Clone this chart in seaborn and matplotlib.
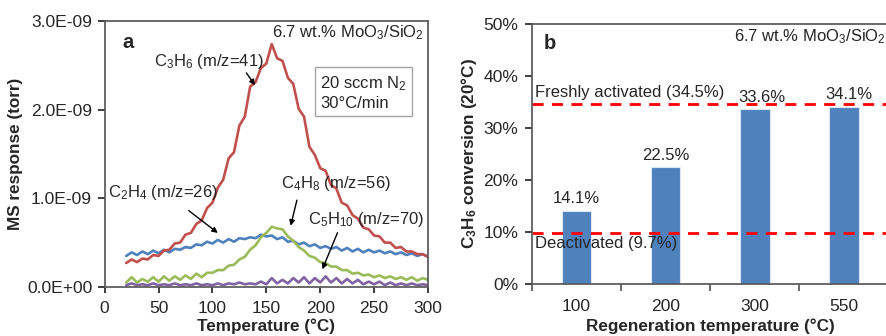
import numpy as np
import pandas as pd
import matplotlib
matplotlib.use("Agg")
import matplotlib.pyplot as plt
import seaborn as sns
from matplotlib.ticker import FuncFormatter, MultipleLocator

# panel a: MS signals, in 1E-09 torr, sampled every 5 C
temps = [20, 25, 30, 35, 40, 45, 50, 55, 60, 65, 70, 75, 80, 85, 90, 95,
         100, 105, 110, 115, 120, 125, 130, 135, 140, 145, 150, 155, 160,
         165, 170, 175, 180, 185, 190, 195, 200, 205, 210, 215, 220, 225,
         230, 235, 240, 245, 250, 255, 260, 265, 270, 275, 280, 285, 290,
         295, 300]
c3h6 = [0.27, 0.31, 0.28, 0.32, 0.31, 0.36, 0.35, 0.41, 0.42, 0.49, 0.50,
        0.59, 0.61, 0.71, 0.75, 0.89, 0.95, 1.12, 1.21, 1.45, 1.52, 1.82,
        1.92, 2.26, 2.31, 2.47, 2.52, 2.74, 2.58, 2.55, 2.36, 2.29, 2.01,
        1.92, 1.58, 1.49, 1.34, 1.31, 1.15, 1.11, 0.95, 0.92, 0.81, 0.77,
        0.67, 0.65, 0.58, 0.57, 0.50, 0.50, 0.44, 0.45, 0.40, 0.40, 0.37,
        0.37, 0.34]
c2h4 = [0.35, 0.39, 0.36, 0.40, 0.37, 0.41, 0.38, 0.42, 0.39, 0.43, 0.42,
        0.45, 0.44, 0.48, 0.47, 0.51, 0.49, 0.53, 0.50, 0.54, 0.51, 0.55,
        0.54, 0.56, 0.55, 0.59, 0.57, 0.58, 0.54, 0.56, 0.51, 0.52, 0.48,
        0.50, 0.46, 0.48, 0.44, 0.46, 0.43, 0.45, 0.41, 0.44, 0.40, 0.43,
        0.39, 0.42, 0.39, 0.41, 0.38, 0.40, 0.37, 0.39, 0.36, 0.38, 0.35,
        0.37, 0.34]
c4h8 = [0.05, 0.11, 0.05, 0.09, 0.06, 0.11, 0.06, 0.12, 0.07, 0.12, 0.08,
        0.13, 0.09, 0.15, 0.11, 0.16, 0.16, 0.19, 0.19, 0.24, 0.25, 0.31,
        0.34, 0.42, 0.47, 0.56, 0.61, 0.68, 0.66, 0.65, 0.57, 0.52, 0.45,
        0.41, 0.35, 0.33, 0.28, 0.27, 0.23, 0.23, 0.19, 0.19, 0.15, 0.16,
        0.13, 0.14, 0.11, 0.13, 0.10, 0.12, 0.09, 0.11, 0.08, 0.11, 0.07,
        0.10, 0.08]
c5h10 = [0.02, 0.04, 0.02, 0.03, 0.02, 0.04, 0.02, 0.03, 0.02, 0.04, 0.02,
         0.03, 0.02, 0.04, 0.02, 0.03, 0.02, 0.04, 0.02, 0.04, 0.03, 0.05,
         0.03, 0.04, 0.03, 0.06, 0.03, 0.10, 0.04, 0.08, 0.04, 0.10, 0.05,
         0.11, 0.04, 0.10, 0.05, 0.12, 0.05, 0.10, 0.04, 0.09, 0.04, 0.08,
         0.03, 0.06, 0.03, 0.06, 0.02, 0.05, 0.02, 0.04, 0.02, 0.04, 0.02,
         0.03, 0.02]

# panel b: regeneration
regen_temps = ["100", "200", "300", "550"]
conversion = [14.1, 22.5, 33.6, 34.1]
fresh_level = 34.5
deact_level = 9.7

sns.set_theme(style="ticks")
plt.rcParams["font.family"] = ["Liberation Sans", "DejaVu Sans"]
plt.rcParams["mathtext.fontset"] = "custom"
plt.rcParams["mathtext.rm"] = "Liberation Sans"
plt.rcParams["mathtext.it"] = "Liberation Sans:italic"
plt.rcParams["mathtext.bf"] = "Liberation Sans:bold"

spine_c = "#595959"
fs = 12.3
fs_tick = 12.6
fs_note = 12.0

fig = plt.figure(figsize=(8.87, 3.36), dpi=100)
ax1 = fig.add_axes([0.118, 0.146, 0.3645, 0.7915])
ax2 = fig.add_axes([0.5998, 0.155, 0.402, 0.774])

# ---- panel a
traces = [(c2h4, "#4F81BD"), (c3h6, "#C0504D"), (c4h8, "#9BBB59"), (c5h10, "#8064A2")]
for vals, col in traces:
    sns.lineplot(x=temps, y=np.array(vals) * 1e-9, ax=ax1, color=col, lw=1.9)

ax1.set_xlim(0, 300)
ax1.set_ylim(0, 3e-9)
ax1.xaxis.set_major_locator(MultipleLocator(50))
ax1.yaxis.set_major_locator(MultipleLocator(1e-9))
ax1.yaxis.set_major_formatter(FuncFormatter(lambda v, p: f"{v:.1E}"))
ax1.set_xlabel("Temperature (°C)", fontsize=fs, fontweight="bold", labelpad=2)
ax1.set_ylabel("MS response (torr)", fontsize=fs, fontweight="bold", labelpad=3)
ax1.tick_params(axis="y", labelsize=fs_tick, colors="#262626", length=5, pad=4)
ax1.tick_params(axis="x", labelsize=fs_tick, colors="#262626", length=4, pad=6)
for s in ax1.spines.values():
    s.set_color(spine_c)

ax1.text(16, 2.76e-9, "a", fontsize=14.5, fontweight="bold", va="center")
ax1.text(296, 2.87e-9, "6.7 wt.% MoO$_3$/SiO$_2$", fontsize=fs_note, ha="right", va="center")
ax1.text(46, 2.54e-9, "C$_3$H$_6$ (m/z=41)", fontsize=fs_note, va="center")
ax1.annotate("", xy=(141, 2.25e-9), xytext=(130, 2.44e-9),
             arrowprops=dict(arrowstyle="-|>", color="black", lw=1, mutation_scale=8))
ax1.text(200, 2.19e-9, "20 sccm N$_2$\n30°C/min", fontsize=fs_note, va="center", linespacing=1.3,
         bbox=dict(boxstyle="square,pad=0.3", fc="white", ec="#A6A6A6", lw=1))
ax1.text(3, 1.06e-9, "C$_2$H$_4$ (m/z=26)", fontsize=fs_note, va="center")
ax1.annotate("", xy=(107, 0.59e-9), xytext=(76, 0.88e-9),
             arrowprops=dict(arrowstyle="-|>", color="black", lw=1, mutation_scale=8))
ax1.text(164, 1.17e-9, "C$_4$H$_8$ (m/z=56)", fontsize=fs_note, va="center")
ax1.annotate("", xy=(172, 0.66e-9), xytext=(179, 1.01e-9),
             arrowprops=dict(arrowstyle="-|>", color="black", lw=1, mutation_scale=8))
ax1.text(189, 0.76e-9, "C$_5$H$_{10}$ (m/z=70)", fontsize=fs_note, va="center")
ax1.annotate("", xy=(201, 0.17e-9), xytext=(217, 0.64e-9),
             arrowprops=dict(arrowstyle="-|>", color="black", lw=1, mutation_scale=8))

# ---- panel b
df = pd.DataFrame({"regen": regen_temps, "conv": conversion})
sns.barplot(data=df, x="regen", y="conv", ax=ax2, color="#4F81BD", width=0.33,
            saturation=1, edgecolor="#DCE6F2", linewidth=0.8)
label_dx = [0, 0, 0.08, 0.05]
for i, v in enumerate(conversion):
    ax2.text(i + label_dx[i], v + 0.8, f"{v:.1f}%", fontsize=fs_note, ha="center", va="bottom")

ax2.axhline(fresh_level, color="#FF0000", lw=2, ls=(0, (4, 3)))
ax2.axhline(deact_level, color="#FF0000", lw=2, ls=(0, (4, 3)))
ax2.text(-0.47, 36.8, f"Freshly activated ({fresh_level}%)", fontsize=fs_note, va="center")
ax2.text(-0.47, 7.8, f"Deactivated ({deact_level}%)", fontsize=fs_note, va="center")
ax2.text(-0.37, 46.3, "b", fontsize=14.5, fontweight="bold", va="center")
ax2.text(3.47, 47.6, "6.7 wt.% MoO$_3$/SiO$_2$", fontsize=fs_note, ha="right", va="center")

ax2.set_xlim(-0.5, 3.5)
ax2.set_ylim(0, 50)
ax2.yaxis.set_major_locator(MultipleLocator(10))
ax2.yaxis.set_major_formatter(FuncFormatter(lambda v, p: f"{v:.0f}%"))
ax2.set_xticks([-0.5, 0.5, 1.5, 2.5, 3.5], minor=False)
ax2.set_xticklabels([])
ax2.set_xticks([0, 1, 2, 3], minor=True)
ax2.set_xticklabels(regen_temps, minor=True)
ax2.tick_params(axis="x", which="minor", length=0, labelsize=fs_tick, colors="#262626", pad=11)
ax2.tick_params(axis="x", which="major", length=5, color=spine_c)
ax2.tick_params(axis="y", labelsize=fs_tick, colors="#262626", length=5, pad=5)
ax2.set_xlabel("Regeneration temperature (°C)", fontsize=fs, fontweight="bold", labelpad=3)
ax2.set_ylabel(r"C$_\mathbf{3}$H$_\mathbf{6}$ conversion (20°C)", fontsize=fs,
               fontweight="bold", labelpad=3)
for s in ax2.spines.values():
    s.set_color(spine_c)
ax2.spines["right"].set_visible(False)

fig.savefig("out.png", dpi=100)
